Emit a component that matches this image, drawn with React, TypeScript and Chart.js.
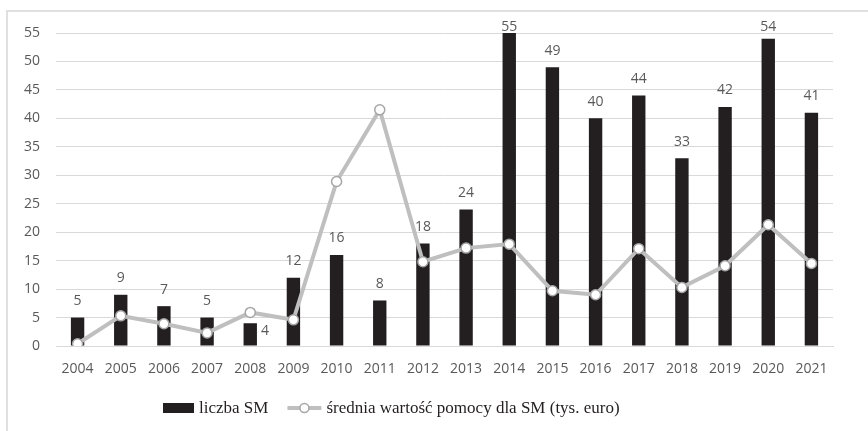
import { useEffect, useRef } from 'react';
import { Chart, registerables } from 'chart.js';

Chart.register(...registerables);

const years = ['2004', '2005', '2006', '2007', '2008', '2009', '2010', '2011', '2012', '2013', '2014', '2015', '2016', '2017', '2018', '2019', '2020', '2021'];
const liczbaSM = [5, 9, 7, 5, 4, 12, 16, 8, 18, 24, 55, 49, 40, 44, 33, 42, 54, 41];
const sredniaWartosc = [0.4, 5.3, 3.9, 2.3, 5.9, 4.6, 28.9, 41.5, 14.8, 17.2, 17.9, 9.7, 9.0, 17.1, 10.3, 14.1, 21.3, 14.5];
const barLabel = 'liczba SM';
const lineLabel = 'średnia wartość pomocy dla SM (tys. euro)';
const yMin = 0;
const yMax = 55;
const yStep = 5;
const sideLabelIndices = [4];

const tickFont = { family: "'Open Sans', 'Liberation Sans', sans-serif", size: 14 };
const tickColor = '#595959';
const barColor = '#231f20';
const lineColor = '#bfbfbf';

const framePlugin = {
  id: 'frame',
  beforeDraw(chart: any) {
    const ctx = chart.ctx;
    ctx.save();
    ctx.fillStyle = '#ffffff';
    ctx.fillRect(0, 0, chart.width, chart.height);
    ctx.strokeStyle = '#e0e0e0';
    ctx.lineWidth = 2;
    ctx.beginPath();
    ctx.moveTo(7, chart.height);
    ctx.lineTo(7, 11);
    ctx.lineTo(chart.width, 11);
    ctx.stroke();
    ctx.restore();
  },
};

const dataLabelPlugin = {
  id: 'dataLabels',
  afterDatasetsDraw(chart: any) {
    const ctx = chart.ctx;
    const meta = chart.getDatasetMeta(0);
    const data = chart.data.datasets[0].data;
    ctx.save();
    ctx.font = `${tickFont.size}px ${tickFont.family}`;
    ctx.fillStyle = tickColor;
    ctx.textBaseline = 'alphabetic';
    meta.data.forEach((el: any, i: number) => {
      const txt = String(data[i]);
      if (sideLabelIndices.includes(i)) {
        ctx.textAlign = 'left';
        ctx.fillText(txt, el.x + el.width / 2 + 4, el.y + 12);
      } else {
        ctx.textAlign = 'center';
        ctx.fillText(txt, el.x, Math.max(el.y - 12.5, 31));
      }
    });
    ctx.restore();
  },
};

const legendPlugin = {
  id: 'customLegend',
  afterDraw(chart: any) {
    const ctx = chart.ctx;
    const ds = chart.data.datasets;
    const cy = 408;
    let x = 163;
    ctx.save();
    ctx.font = "17px 'Liberation Serif', 'DejaVu Serif', serif";
    ctx.textBaseline = 'middle';
    ctx.textAlign = 'left';
    ctx.fillStyle = barColor;
    ctx.fillRect(x, cy - 5, 31, 10);
    x += 36;
    ctx.fillText(ds[0].label, x, cy + 1);
    x += ctx.measureText(ds[0].label).width + 19;
    ctx.strokeStyle = lineColor;
    ctx.lineWidth = 4;
    ctx.beginPath();
    ctx.moveTo(x, cy);
    ctx.lineTo(x + 34, cy);
    ctx.stroke();
    ctx.beginPath();
    ctx.arc(x + 17, cy, 4.5, 0, Math.PI * 2);
    ctx.fillStyle = '#ffffff';
    ctx.fill();
    ctx.lineWidth = 1.5;
    ctx.strokeStyle = '#a6a6a6';
    ctx.stroke();
    x += 39;
    ctx.fillStyle = barColor;
    ctx.fillText(ds[1].label, x, cy + 1);
    ctx.restore();
  },
};

export default function App() {
  const ref = useRef<HTMLCanvasElement>(null);
  useEffect(() => {
    const chart = new Chart(ref.current as HTMLCanvasElement, {
      type: 'bar',
      data: {
        labels: years,
        datasets: [
          {
            type: 'bar',
            label: barLabel,
            data: liczbaSM,
            backgroundColor: barColor,
            barPercentage: 0.31,
            categoryPercentage: 1,
            order: 1,
          } as any,
          {
            type: 'line',
            label: lineLabel,
            data: sredniaWartosc,
            borderColor: lineColor,
            borderWidth: 4,
            pointRadius: 5,
            pointBackgroundColor: '#ffffff',
            pointBorderColor: '#a6a6a6',
            pointBorderWidth: 1.5,
            tension: 0,
            order: 0,
          } as any,
        ],
      },
      options: {
        responsive: false,
        animation: false,
        layout: { padding: { left: 0, right: 35, top: 33, bottom: 55 } },
        plugins: {
          legend: { display: false },
          tooltip: { enabled: false },
        },
        scales: {
          x: {
            grid: { display: false, drawTicks: false },
            border: { display: true, color: '#d9d9d9', width: 1 },
            ticks: { font: tickFont, color: tickColor, padding: 15, maxRotation: 0, autoSkip: false },
            afterFit: (s: any) => { s.height = 30; },
          },
          y: {
            min: yMin,
            max: yMax,
            ticks: { stepSize: yStep, font: tickFont, color: tickColor, padding: 16 },
            grid: { color: '#d9d9d9', drawTicks: false, lineWidth: 1 },
            border: { display: false },
            afterFit: (s: any) => { s.width = 56; },
          },
        },
      } as any,
      plugins: [framePlugin, dataLabelPlugin, legendPlugin],
    });
    return () => chart.destroy();
  }, []);
  return (
    <div style={{ position: 'fixed', left: 0, top: 0, width: 868, height: 431, background: '#fff' }}>
      <canvas ref={ref} width={868} height={431} style={{ display: 'block' }} />
    </div>
  );
}
